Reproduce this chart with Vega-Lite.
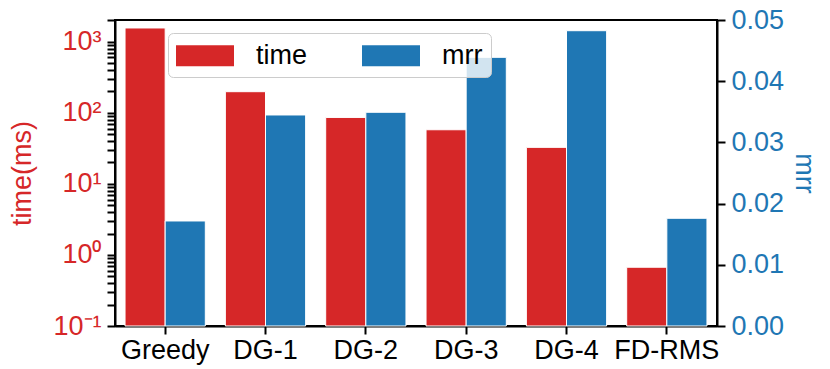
{
  "$schema": "https://vega.github.io/schema/vega-lite/v6.json",
  "autosize": "none",
  "width": 602,
  "height": 306,
  "padding": {"left": 115, "top": 20, "right": 113, "bottom": 43},
  "background": "white",
  "config": {
    "font": "Liberation Sans",
    "view": {"stroke": "black", "strokeWidth": 2},
    "axis": {"domainColor": "black", "domainWidth": 2, "tickColor": "black", "tickWidth": 2, "grid": false, "labelFontSize": 27, "titleFontSize": 27, "titleFontWeight": "normal", "labelFont": "Liberation Sans", "titleFont": "Liberation Sans"}
  },
  "data": {
    "values": [
      {"method": "Greedy", "series": "time", "value": 1560},
      {"method": "DG-1", "series": "time", "value": 198},
      {"method": "DG-2", "series": "time", "value": 86},
      {"method": "DG-3", "series": "time", "value": 57.7},
      {"method": "DG-4", "series": "time", "value": 32.6},
      {"method": "FD-RMS", "series": "time", "value": 0.671},
      {"method": "Greedy", "series": "mrr", "value": 0.01716},
      {"method": "DG-1", "series": "mrr", "value": 0.03448},
      {"method": "DG-2", "series": "mrr", "value": 0.03492},
      {"method": "DG-3", "series": "mrr", "value": 0.0439},
      {"method": "DG-4", "series": "mrr", "value": 0.04825},
      {"method": "FD-RMS", "series": "mrr", "value": 0.0176}
    ]
  },
  "encoding": {
    "x": {
      "field": "method", "type": "nominal", "sort": null,
      "scale": {"paddingInner": 0.2, "paddingOuter": 0.1},
      "axis": {"title": null, "labelAngle": 0, "tickSize": 8, "labelPadding": 3, "labelColor": "black"}
    },
    "xOffset": {"field": "series", "type": "nominal", "scale": {"domain": ["time", "mrr"], "paddingInner": 0, "paddingOuter": 0}},
    "color": {
      "field": "series", "type": "nominal",
      "scale": {"domain": ["time", "mrr"], "range": ["#d62728", "#1f77b4"]},
      "legend": {
        "orient": "none", "direction": "horizontal", "legendX": 53, "legendY": 13,
        "title": null,
        "symbolType": "M-1,-0.72L3,-0.72L3,0.72L-1,0.72Z",
        "symbolSize": 841, "symbolStrokeWidth": 0, "symbolOpacity": 1,
        "labelFontSize": 27, "labelColor": "black", "labelOffset": 51, "labelLimit": 0,
        "columnPadding": 54, "padding": 8,
        "fillColor": "rgba(255,255,255,0.8)", "strokeColor": "#cccccc", "cornerRadius": 5,
        "encode": {"legend": {"update": {"strokeWidth": {"value": 2}}}}
      }
    }
  },
  "layer": [
    {
      "transform": [{"filter": "datum.series == 'time'"}],
      "mark": {"type": "bar", "stroke": "white", "strokeWidth": 1},
      "encoding": {
        "y": {
          "field": "value", "type": "quantitative", "stack": null,
          "scale": {"type": "log", "domain": [0.1, 2020], "nice": false},
          "axis": {
            "title": "time(ms)", "titleColor": "#d62728", "labelColor": "#d62728",
            "values": [0.1, 0.2, 0.3, 0.4, 0.5, 0.6, 0.7, 0.8, 0.9, 1, 2, 3, 4, 5, 6, 7, 8, 9, 10, 20, 30, 40, 50, 60, 70, 80, 90, 100, 200, 300, 400, 500, 600, 700, 800, 900, 1000, 2000],
            "labelExpr": "datum.value == 1000 ? '10³' : datum.value == 100 ? '10²' : datum.value == 10 ? '10¹' : datum.value == 1 ? '10⁰' : datum.value == 0.1 ? '10⁻¹' : ''",
            "tickSize": 8, "labelPadding": 6, "titlePadding": 16,
            "encode": {"ticks": {"update": {"x2": {"signal": "(datum.value == 1000 || datum.value == 100 || datum.value == 10 || datum.value == 1 || datum.value == 0.1) ? -8 : -4"}}}}
          }
        }
      }
    },
    {
      "transform": [{"filter": "datum.series == 'mrr'"}],
      "mark": {"type": "bar", "stroke": "white", "strokeWidth": 1},
      "encoding": {
        "y": {
          "field": "value", "type": "quantitative", "stack": null,
          "scale": {"domain": [0, 0.05], "nice": false},
          "axis": {
            "orient": "right", "title": "mrr", "titleColor": "#1f77b4", "labelColor": "#1f77b4",
            "values": [0, 0.01, 0.02, 0.03, 0.04, 0.05], "format": ".2f",
            "tickSize": 8, "labelPadding": 6, "titlePadding": 6
          }
        }
      }
    }
  ],
  "resolve": {"scale": {"y": "independent"}}
}
